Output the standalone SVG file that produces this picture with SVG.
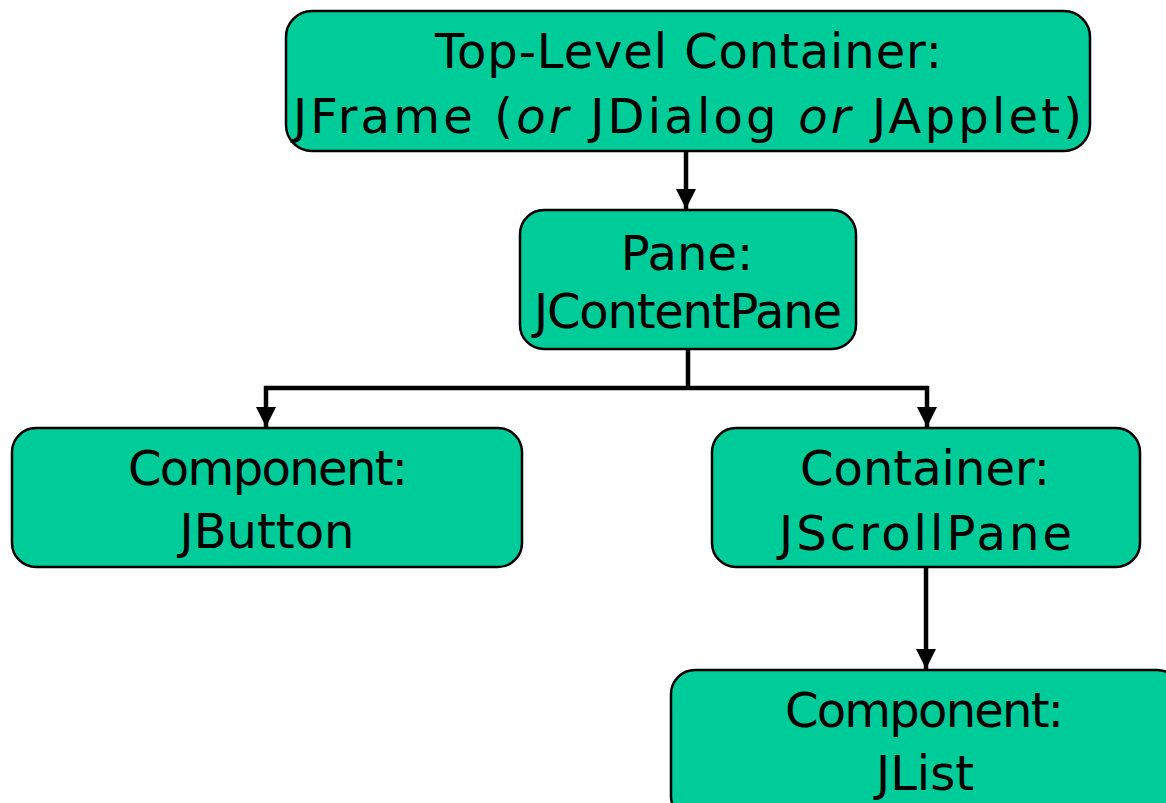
<svg xmlns="http://www.w3.org/2000/svg" width="1166" height="803" viewBox="0 0 1166 803">
  <style>
    .box { fill: #00CC99; stroke: #000; stroke-width: 2.5; }
    .lbl { font-family: "DejaVu Sans", "Noto Sans", sans-serif; font-size: 48px; fill: #000; }
    .mid { text-anchor: middle; }
    .wire { fill: none; stroke: #000; stroke-width: 4.5; }
  </style>
  <defs>
    <marker id="arrow" viewBox="0 0 20 20" refX="20" refY="10" markerWidth="20" markerHeight="20" markerUnits="userSpaceOnUse" orient="auto">
      <path d="M0,0 L20,10 L0,20 Z" fill="#000"/>
    </marker>
  </defs>

  <g id="connectors">
    <line class="wire" x1="686" y1="151" x2="686" y2="209" marker-end="url(#arrow)"/>
    <polyline class="wire" points="688,349 688,388"/>
    <polyline class="wire" points="688,388 266,388 266,427" marker-end="url(#arrow)"/>
    <polyline class="wire" points="688,388 927,388 927,427" marker-end="url(#arrow)"/>
    <line class="wire" x1="926" y1="567" x2="926" y2="669" marker-end="url(#arrow)"/>
  </g>

  <g id="top-level">
    <rect class="box" x="286" y="11" width="804" height="140" rx="26"/>
    <text class="lbl" x="435" y="68" textLength="507" lengthAdjust="spacing">Top-Level Container:</text>
    <text class="lbl" x="293" y="133" textLength="789" lengthAdjust="spacing">JFrame (<tspan font-style="italic">or</tspan> JDialog <tspan font-style="italic">or</tspan> JApplet)</text>
  </g>

  <g id="content-pane">
    <rect class="box" x="520" y="210" width="336" height="139" rx="24"/>
    <text class="lbl mid" x="687" y="270">Pane:</text>
    <text class="lbl" x="534" y="328" textLength="308" lengthAdjust="spacing">JContentPane</text>
  </g>

  <g id="button">
    <rect class="box" x="12" y="428" width="510" height="139" rx="24"/>
    <text class="lbl" x="128" y="485" textLength="280" lengthAdjust="spacing">Component:</text>
    <text class="lbl mid" x="267" y="548">JButton</text>
  </g>

  <g id="scroll-pane">
    <rect class="box" x="712" y="428" width="428" height="139" rx="24"/>
    <text class="lbl" x="800" y="485" textLength="250" lengthAdjust="spacing">Container:</text>
    <text class="lbl" x="779" y="550" textLength="293" lengthAdjust="spacing">JScrollPane</text>
  </g>

  <g id="list">
    <rect class="box" x="671" y="670" width="510" height="150" rx="24"/>
    <text class="lbl" x="785" y="727" textLength="279" lengthAdjust="spacing">Component:</text>
    <text class="lbl mid" x="925" y="790">JList</text>
  </g>
</svg>
